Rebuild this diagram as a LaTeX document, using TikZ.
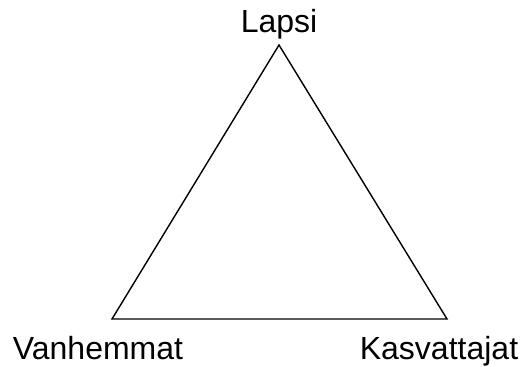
\documentclass[tikz,border=0pt]{standalone}
\usepackage{fontspec}
\setmainfont{Liberation Sans}
\usepackage{tikz}
\usetikzlibrary{positioning}
\tikzset{
	cornertext/.style={font=\fontsize{32}{37}\selectfont, anchor=base, inner sep=0pt}
}
\tikzset{
	sideline/.style={line width=1.4pt, line join=miter}
}
\begin{document}
\begin{tikzpicture}[x=1pt, y=1pt]
      \useasboundingbox (0,0) rectangle (523,367);
      % corners of the triangle
      \coordinate (top) at (279,322);
      \coordinate (left) at (112,48);
      \coordinate (right) at (447,48);
      % labels
      \node[cornertext] (lapsi) at (279,334) {Lapsi};
      \node[cornertext] (vanhemmat) at (98,7) {Vanhemmat};
      \node[cornertext] (kasvattajat) at (439,7) {Kasvattajat};
      % sides
      \draw[sideline] (top) -- (left) -- (right) -- cycle;
    \end{tikzpicture}
\end{document}
